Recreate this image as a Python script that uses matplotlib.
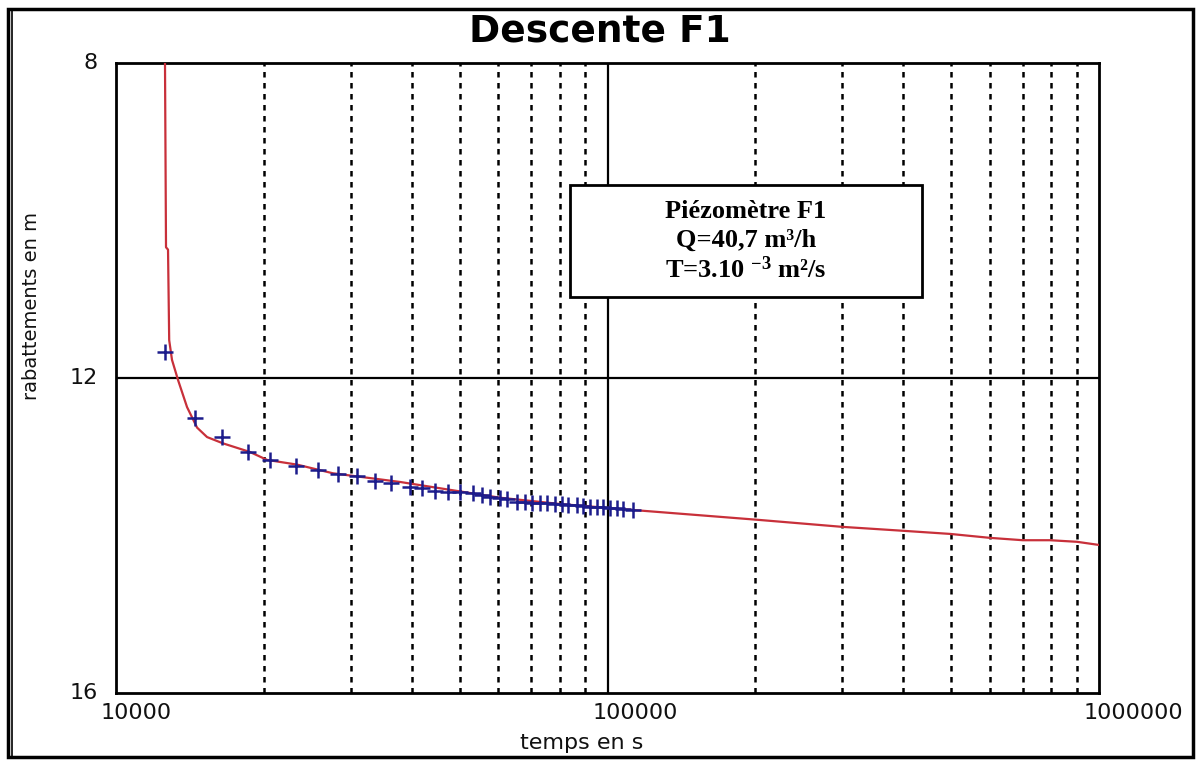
import matplotlib
matplotlib.use("Agg")
import matplotlib.pyplot as plt
from matplotlib.patches import Rectangle
from matplotlib.lines import Line2D
import matplotlib.transforms as mtransforms

plt.rcParams["mathtext.fontset"] = "custom"
plt.rcParams["mathtext.rm"] = "Liberation Serif:bold"
plt.rcParams["mathtext.bf"] = "Liberation Serif:bold"
plt.rcParams["mathtext.it"] = "Liberation Serif:bold"

# ---- data ----
t_obs = [12580, 14480, 16430, 18560, 20570, 23240, 25760, 28300, 30930, 33650,
         36270, 39650, 41940, 44570, 47370, 50100, 53250, 55550, 57700, 60400,
         62450, 65450, 67950, 70200, 72900, 75300, 78200, 80800, 83100, 86700,
         89200, 92100, 95200, 98000, 101200, 104500, 107500, 112700]
s_obs = [11.67, 12.51, 12.75, 12.94, 13.04, 13.12, 13.17, 13.22, 13.24, 13.31,
         13.33, 13.38, 13.40, 13.43, 13.45, 13.45, 13.46, 13.49, 13.51, 13.52,
         13.54, 13.57, 13.57, 13.59, 13.59, 13.59, 13.60, 13.60, 13.61, 13.61,
         13.63, 13.64, 13.64, 13.64, 13.65, 13.65, 13.66, 13.68]

t_fit = [12580, 12640, 12760, 12830, 13000, 13380, 13950, 14620, 15320, 16510,
         18740, 20290, 23360, 27630, 37830, 60400, 80050, 114800, 201500, 300000,
         399000, 498000, 600000, 700000, 795000, 902000, 1000000]
s_fit = [8.0, 10.34, 10.37, 11.52, 11.77, 12.03, 12.37, 12.63, 12.75, 12.83,
         12.94, 13.04, 13.10, 13.21, 13.32, 13.52, 13.60, 13.68, 13.80, 13.89,
         13.94, 13.98, 14.03, 14.06, 14.06, 14.08, 14.12]

x_ticks = [10000, 100000, 1000000]
x_tick_labels = ["10000", "100000", "1000000"]
y_ticks = [8, 12, 16]
y_tick_labels = ["8", "12", "16"]
minor_grid = [2e4, 3e4, 4e4, 5e4, 6e4, 7e4, 8e4, 9e4,
              2e5, 3e5, 4e5, 5e5, 6e5, 7e5, 8e5, 9e5]

title = "Descente F1"
xlabel = "temps en s"
ylabel = "rabattements en m"
box_lines = ["Piézomètre F1", "Q=40,7 m³/h", "T=3.10 $^{-3}$ m²/s"]

# ---- figure ----
W, H = 1200, 762
fig = plt.figure(figsize=(W / 100, H / 100), dpi=100)
fig.patch.set_facecolor("white")

def fx(px):
    return px / W

def fy(py):
    return 1 - py / H

ax = fig.add_axes([fx(116), fy(693), fx(1099) - fx(116), fy(63) - fy(693)])
ax.set_xscale("log")
ax.set_xlim(1e4, 1e6)
ax.set_ylim(16, 8)

for v in minor_grid:
    ax.axvline(v, color="black", lw=1.8, linestyle=(0, (2.2, 2.2)), zorder=1)
ax.axvline(1e5, color="black", lw=1.6, zorder=1)
ax.axhline(12, color="black", lw=1.6, zorder=1)

ax.plot(t_fit, s_fit, color="#c8303a", lw=1.6, zorder=3, clip_on=True)
ax.plot(t_obs, s_obs, linestyle="none", marker="+", color="#1c1c8c",
        markersize=11, markeredgewidth=1.8, zorder=4)

for sp in ax.spines.values():
    sp.set_linewidth(2)
    sp.set_color("black")

ax.set_xticks(x_ticks)
ax.set_xticklabels([])
ax.set_yticks(y_ticks)
ax.set_yticklabels([])
ax.xaxis.set_minor_locator(matplotlib.ticker.NullLocator())
ax.tick_params(which="both", length=0)

tick_font = dict(family="DejaVu Sans", fontsize=16, color="#111111")
shift = mtransforms.ScaledTranslation(-15 / 100, 0, fig.dpi_scale_trans)
trx = mtransforms.blended_transform_factory(ax.transData, fig.transFigure)
for v, lab in zip(x_ticks, x_tick_labels):
    ax.text(v, fy(713), lab, transform=trx + shift, ha="left", va="center", **tick_font)
try_ = mtransforms.blended_transform_factory(fig.transFigure, ax.transData)
for v, lab in zip(y_ticks, y_tick_labels):
    ax.text(fx(98), v, lab, transform=try_, ha="right", va="center", **tick_font)

fig.text(fx(582), fy(743), xlabel, ha="center", va="center",
         family="DejaVu Sans", fontsize=16, color="#111111")
fig.text(fx(32), fy(306), ylabel, ha="center", va="center", rotation=90,
         family="DejaVu Sans", fontsize=14, color="#111111")
fig.text(fx(600), fy(31), title, ha="center", va="center",
         family="DejaVu Sans", fontsize=27, fontweight="bold", color="black")

# annotation box
bx0, by0, bx1, by1 = 570, 185, 922, 297
fig.patches.append(Rectangle((fx(bx0), fy(by1)), fx(bx1) - fx(bx0), fy(by0) - fy(by1),
                             transform=fig.transFigure, facecolor="white",
                             edgecolor="black", lw=2, zorder=5))
for line, py in zip(box_lines, [211, 240, 270]):
    fig.text(fx(746), fy(py), line, ha="center", va="center",
             family="Liberation Serif", fontsize=19, fontweight="bold",
             color="black", zorder=6)

# outer frame
fig.patches.append(Rectangle((fx(8), fy(757)), fx(1193) - fx(8), fy(9) - fy(757),
                             transform=fig.transFigure, facecolor="none",
                             edgecolor="black", lw=2.5))
fig.lines.append(Line2D([fx(12), fx(12)], [fy(10), fy(756)],
                        transform=fig.transFigure, color="black", lw=1.2))

fig.savefig("out.png", dpi=100, facecolor="white")
